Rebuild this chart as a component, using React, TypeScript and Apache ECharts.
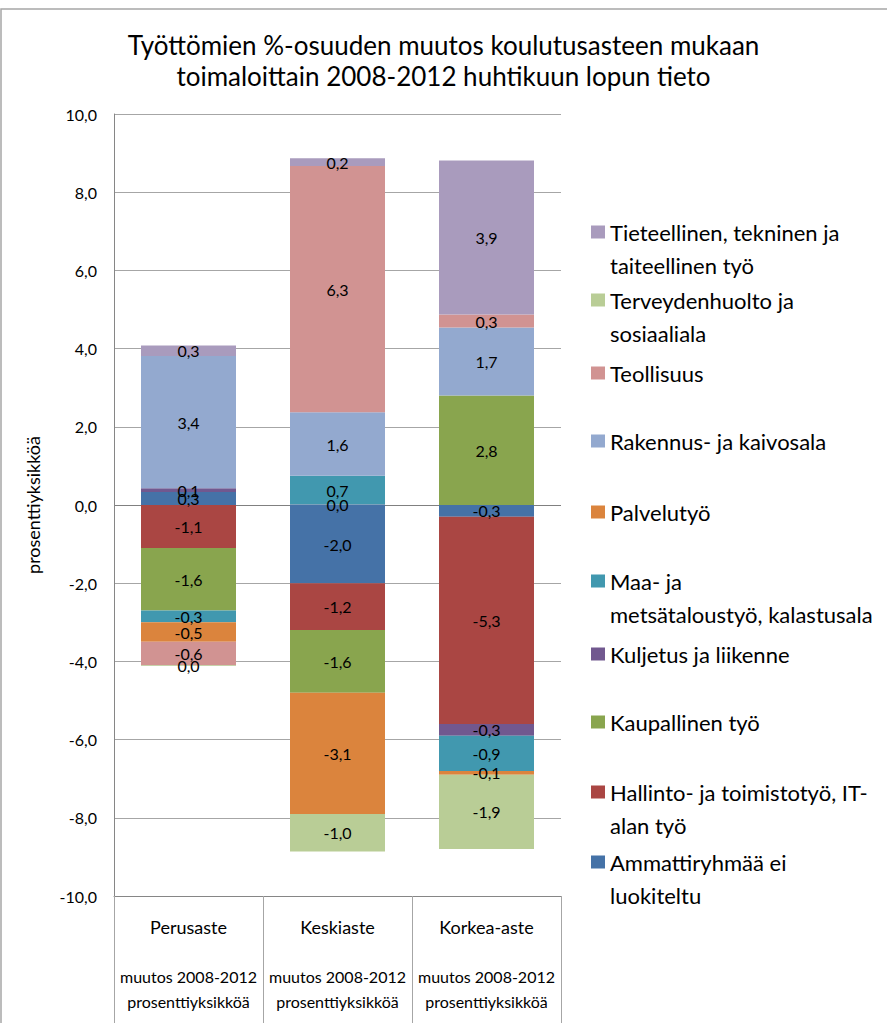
import React, { useEffect, useRef } from "react";
import * as echarts from "echarts";

const categories = ["Perusaste", "Keskiaste", "Korkea-aste"];
const subLabel = "muutos 2008-2012\nprosenttiyksikköä";

const seriesNames = [
  "Ammattiryhmää ei luokiteltu",
  "Hallinto- ja toimistotyö, IT-alan työ",
  "Kaupallinen työ",
  "Kuljetus ja liikenne",
  "Maa- ja metsätaloustyö, kalastusala",
  "Palvelutyö",
  "Rakennus- ja kaivosala",
  "Teollisuus",
  "Terveydenhuolto ja sosiaaliala",
  "Tieteellinen, tekninen ja taiteellinen työ",
];

// values per category: Perusaste, Keskiaste, Korkea-aste
const ammattiryhma = [0.33, -2.0, -0.3];
const hallinto = [-1.1, -1.2, -5.3];
const kaupallinen = [-1.6, -1.6, 2.8];
const kuljetus = [0.1, 0.01, -0.3];
const maaMetsa = [-0.3, 0.74, -0.9];
const palvelu = [-0.5, -3.1, -0.1];
const rakennus = [3.38, 1.62, 1.74];
const teollisuus = [-0.6, 6.3, 0.33];
const terveys = [-0.02, -0.96, -1.9];
const tieteellinen = [0.27, 0.2, 3.94];

const seriesValues = [
  ammattiryhma,
  hallinto,
  kaupallinen,
  kuljetus,
  maaMetsa,
  palvelu,
  rakennus,
  teollisuus,
  terveys,
  tieteellinen,
];

const colors = [
  "#4572A7",
  "#AA4643",
  "#89A54E",
  "#71588F",
  "#4198AF",
  "#DB843D",
  "#93A9CF",
  "#D19392",
  "#B9CD96",
  "#A99BBD",
];

// legend wrapping as shown in the reference
const legendLines: Record<string, string[]> = {
  "Tieteellinen, tekninen ja taiteellinen työ": ["Tieteellinen, tekninen ja", "taiteellinen työ"],
  "Terveydenhuolto ja sosiaaliala": ["Terveydenhuolto ja", "sosiaaliala"],
  "Teollisuus": ["Teollisuus"],
  "Rakennus- ja kaivosala": ["Rakennus- ja kaivosala"],
  "Palvelutyö": ["Palvelutyö"],
  "Maa- ja metsätaloustyö, kalastusala": ["Maa- ja", "metsätaloustyö, kalastusala"],
  "Kuljetus ja liikenne": ["Kuljetus ja liikenne"],
  "Kaupallinen työ": ["Kaupallinen työ"],
  "Hallinto- ja toimistotyö, IT-alan työ": ["Hallinto- ja toimistotyö, IT-", "alan työ"],
  "Ammattiryhmää ei luokiteltu": ["Ammattiryhmää ei", "luokiteltu"],
};

const legendOrder = [
  "Tieteellinen, tekninen ja taiteellinen työ",
  "Terveydenhuolto ja sosiaaliala",
  "Teollisuus",
  "Rakennus- ja kaivosala",
  "Palvelutyö",
  "Maa- ja metsätaloustyö, kalastusala",
  "Kuljetus ja liikenne",
  "Kaupallinen työ",
  "Hallinto- ja toimistotyö, IT-alan työ",
  "Ammattiryhmää ei luokiteltu",
];

const FONT = "Lato";

const fmt = (v: number) => {
  if (Math.abs(v) < 0.05) return "0,0";
  return v.toFixed(1).replace(".", ",");
};

export default function App() {
  const ref = useRef<HTMLDivElement>(null);

  useEffect(() => {
    if (!ref.current) return;
    const chart = echarts.init(ref.current, null, { renderer: "svg" });

    const legendYs = [232, 300, 373, 441, 512, 581, 654, 722, 792, 862];
    const LH = 33;
    const legends = legendOrder.map((name, i) => {
      const lines = legendLines[name];
      const two = lines.length > 1;
      return {
        left: 591,
        top: legendYs[i] - LH / 2,
        orient: "vertical",
        padding: 0,
        selectedMode: false,
        itemWidth: 14,
        itemHeight: two ? 13 + LH : 13,
        icon: two ? `path://M0,0H14V13H0Z M0,${13 + LH}L0.01,${13 + LH}` : "rect",
        data: [name],
        formatter: (n: string) => legendLines[n].join("\n"),
        textStyle: { fontSize: 22, lineHeight: LH, fontFamily: FONT, color: "#000" },
      };
    });

    const splitColors = Array.from({ length: 11 }, (_, i) => (i === 5 ? "#808080" : "#a6a6a6"));

    chart.setOption({
      animation: false,
      color: colors,
      textStyle: { fontFamily: FONT },
      title: {
        text: "Työttömien %-osuuden muutos koulutusasteen mukaan\ntoimaloittain 2008-2012 huhtikuun lopun tieto",
        left: "center",
        top: 29,
        padding: [0, 0, 0, 9],
        textStyle: {
          fontSize: 26,
          lineHeight: 31,
          fontWeight: "normal",
          fontFamily: FONT,
          color: "#000",
        },
      },
      legend: legends,
      grid: { left: 114, right: 326, top: 114, bottom: 127, containLabel: false },
      xAxis: {
        type: "category",
        data: categories,
        axisLine: { show: true, onZero: false, lineStyle: { color: "#868686", width: 1 } },
        axisTick: { show: true, interval: 0, length: 127, lineStyle: { color: "#a6a6a6" } },
        axisLabel: {
          interval: 0,
          margin: 18,
          color: "#000",
          fontFamily: FONT,
          formatter: (v: string) => `{c|${v}}\n{s|}\n{s|muutos 2008-2012}\n{s|prosenttiyksikköä}`,
          rich: {
            c: { fontSize: 18, lineHeight: 25, fontFamily: FONT, color: "#000" },
            s: { fontSize: 16, lineHeight: 25, fontFamily: FONT, color: "#000" },
          },
        },
      },
      yAxis: {
        type: "value",
        min: -10,
        max: 10,
        interval: 2,
        name: "prosenttiyksikköä",
        nameLocation: "middle",
        nameRotate: 90,
        nameGap: 72,
        nameTextStyle: { fontSize: 18, color: "#000", fontFamily: FONT },
        axisLine: { show: true, lineStyle: { color: "#868686", width: 1 } },
        axisTick: { show: false },
        axisLabel: {
          fontSize: 16,
          margin: 17,
          color: "#000",
          fontFamily: FONT,
          formatter: (v: number) => v.toFixed(1).replace(".", ","),
        },
        splitLine: { show: true, lineStyle: { color: splitColors, width: 1 } },
      },
      graphic: [
        {
          type: "rect",
          silent: true,
          shape: { x: 1, y: 9, width: 1000, height: 1100 },
          style: { fill: "none", stroke: "#a6a6a6", lineWidth: 1.5 },
        },
      ],
      series: seriesNames.map((name, i) => ({
        name,
        type: "bar",
        stack: "total",
        barWidth: 95,
        data: seriesValues[i],
        itemStyle: { color: colors[i] },
        emphasis: { disabled: true },
        label: {
          show: true,
          position: "inside",
          fontSize: 16,
          color: "#000",
          fontFamily: FONT,
          formatter: (p: any) => fmt(p.value),
        },
      })),
    });

    return () => chart.dispose();
  }, []);

  return (
    <div
      ref={ref}
      style={{ position: "absolute", left: 0, top: 0, width: 887, height: 1023 }}
    />
  );
}
